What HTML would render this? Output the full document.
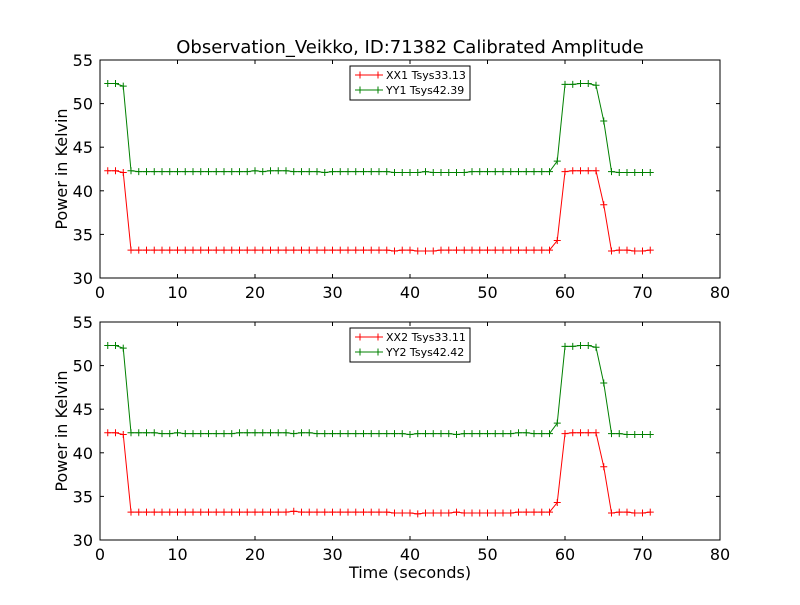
<!DOCTYPE html>
<html><head><meta charset="utf-8"><style>
body{margin:0;background:#fff}
svg text{font-family:"DejaVu Sans","Liberation Sans",sans-serif}
</style></head><body>
<svg id="chart" width="800" height="600" xmlns="http://www.w3.org/2000/svg">
<rect width="800" height="600" fill="#fff"/>
<text x="410" y="53" font-size="18" text-anchor="middle">Observation_Veikko, ID:71382 Calibrated Amplitude</text>
<text x="410" y="578" font-size="16" text-anchor="middle">Time (seconds)</text>
<g id="p1"></g><g id="p2"></g>
</svg>
<script>
const times=[];for(let i=1;i<=71;i++)times.push(i);
const xx1=[42.3,42.3,42.1,33.2,33.2,33.2,33.2,33.2,33.2,33.2,33.2,33.2,33.2,33.2,33.2,33.2,33.2,33.2,33.2,33.2,33.2,33.2,33.2,33.2,33.2,33.2,33.2,33.2,33.2,33.2,33.2,33.2,33.2,33.2,33.2,33.2,33.2,33.1,33.2,33.2,33.1,33.1,33.1,33.2,33.2,33.2,33.2,33.2,33.2,33.2,33.2,33.2,33.2,33.2,33.2,33.2,33.2,33.2,34.3,42.2,42.3,42.3,42.3,42.3,38.4,33.1,33.2,33.2,33.1,33.1,33.2];
const yy1=[52.3,52.3,52.0,42.3,42.2,42.2,42.2,42.2,42.2,42.2,42.2,42.2,42.2,42.2,42.2,42.2,42.2,42.2,42.2,42.3,42.2,42.3,42.3,42.3,42.2,42.2,42.2,42.2,42.1,42.2,42.2,42.2,42.2,42.2,42.2,42.2,42.2,42.1,42.1,42.1,42.1,42.2,42.1,42.1,42.1,42.1,42.1,42.2,42.2,42.2,42.2,42.2,42.2,42.2,42.2,42.2,42.2,42.2,43.4,52.2,52.2,52.3,52.3,52.1,48.0,42.2,42.1,42.1,42.1,42.1,42.1];
const xx2=[42.3,42.3,42.1,33.2,33.2,33.2,33.2,33.2,33.2,33.2,33.2,33.2,33.2,33.2,33.2,33.2,33.2,33.2,33.2,33.2,33.2,33.2,33.2,33.2,33.3,33.2,33.2,33.2,33.2,33.2,33.2,33.2,33.2,33.2,33.2,33.2,33.2,33.1,33.1,33.1,33.0,33.1,33.1,33.1,33.1,33.2,33.1,33.1,33.1,33.1,33.1,33.1,33.1,33.2,33.2,33.2,33.2,33.2,34.3,42.2,42.3,42.3,42.3,42.3,38.4,33.1,33.2,33.2,33.1,33.1,33.2];
const yy2=[52.3,52.3,52.0,42.3,42.3,42.3,42.3,42.2,42.2,42.3,42.2,42.2,42.2,42.2,42.2,42.2,42.2,42.3,42.3,42.3,42.3,42.3,42.3,42.3,42.2,42.3,42.3,42.2,42.2,42.2,42.2,42.2,42.2,42.2,42.2,42.2,42.2,42.2,42.2,42.1,42.2,42.2,42.2,42.2,42.2,42.1,42.2,42.2,42.2,42.2,42.2,42.2,42.2,42.3,42.3,42.2,42.2,42.2,43.4,52.2,52.2,52.3,52.3,52.1,48.0,42.2,42.2,42.1,42.1,42.1,42.1];
const xTicks=[0,10,20,30,40,50,60,70,80];
const yTicks=[30,35,40,45,50,55];
const NS="http://www.w3.org/2000/svg";
function mk(p,t,a){const e=document.createElementNS(NS,t);for(const k in a)e.setAttribute(k,a[k]);p.appendChild(e);return e;}
function panel(g,top,s1,s2,n1,n2,nm){
  const L=100,R=720,T=top,B=top+218;
  const X=v=>L+(v-0)/80*(R-L), Y=v=>B-(v-30)/25*(B-T);
  const fr=mk(g,'rect',{x:L,y:T,width:R-L,height:B-T,fill:'none',stroke:'#000'});
  
  
  xTicks.forEach(v=>{mk(g,'line',{x1:X(v),x2:X(v),y1:B,y2:B-4,stroke:'#000'});mk(g,'line',{x1:X(v),x2:X(v),y1:T,y2:T+4,stroke:'#000'});
    const t=mk(g,'text',{x:X(v),y:B+20,'font-size':16,'text-anchor':'middle'});t.textContent=v;
    
    });
  yTicks.forEach(v=>{mk(g,'line',{x1:L,x2:L+4,y1:Y(v),y2:Y(v),stroke:'#000'});mk(g,'line',{x1:R,x2:R-4,y1:Y(v),y2:Y(v),stroke:'#000'});
    const t=mk(g,'text',{x:L-7,y:Y(v)+6,'font-size':16,'text-anchor':'end'});t.textContent=v;
    
    });
  const yl=mk(g,'text',{x:67,y:(T+B)/2,'font-size':16,'text-anchor':'middle',transform:`rotate(-90 67 ${(T+B)/2})`});yl.textContent='Power in Kelvin';
  
  
  [[s1,'#f00',n1],[s2,'#008000',n2]].forEach(([s,c,n])=>{
    const pl=mk(g,'polyline',{points:s.map((v,i)=>X(times[i])+','+Y(v)).join(' '),fill:'none',stroke:c});
    
    
    s.forEach((v,i)=>{const x=X(times[i]),y=Y(v);mk(g,'path',{d:`M${x-3.5},${y}H${x+3.5}M${x},${y-3.5}V${y+3.5}`,stroke:c});});
  });
  const lg=mk(g,'g',{});
  
  
  mk(lg,'rect',{x:350,y:T+6,width:120,height:34,fill:'#fff',stroke:'#000'});
  [[n1,'#f00'],[n2,'#008000']].forEach(([n,c],k)=>{const y=T+15+k*15;
    mk(lg,'path',{d:`M355,${y}H383M360,${y-3.5}V${y+3.5}M378,${y-3.5}V${y+3.5}`,stroke:c});
    const t=mk(lg,'text',{x:386,y:y+4,'font-size':11});t.textContent=n;
    
    });
}
panel(document.getElementById('p1'),60,xx1,yy1,'XX1 Tsys33.13','YY1 Tsys42.39','top');
panel(document.getElementById('p2'),322,xx2,yy2,'XX2 Tsys33.11','YY2 Tsys42.42','bottom');
</script>
</body></html>
